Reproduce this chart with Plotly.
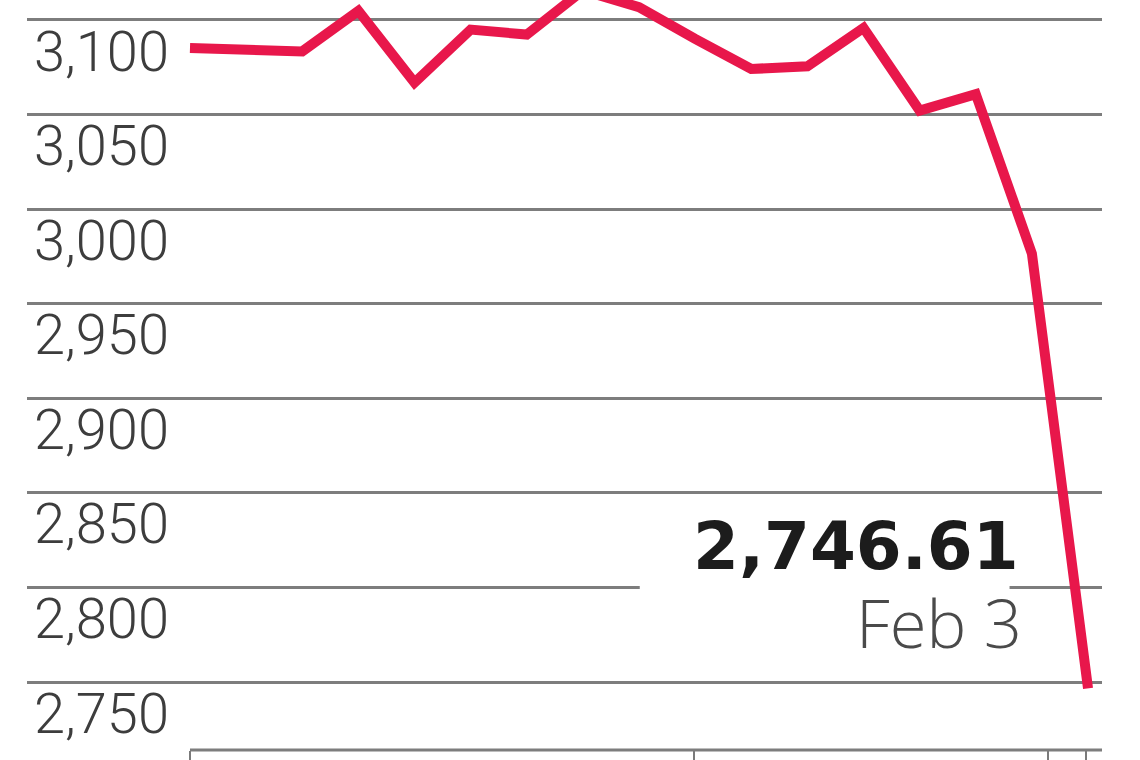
import plotly.graph_objects as go

# Data: index closes (17 trading sessions)
sessions = list(range(17))
closes = [3085.2, 3083.8, 3083.4, 3104.8, 3066.9, 3094.9, 3092.3, 3115.6,
          3106.8, 3090.0, 3074.1, 3075.5, 3095.8, 3052.1, 3060.8, 2976.5, 2746.61]
y_ticks = [2750, 2800, 2850, 2900, 2950, 3000, 3050, 3100]
y_tick_labels = ["2,750", "2,800", "2,850", "2,900", "2,950", "3,000", "3,050", "3,100"]
x_tick_positions = [0, 8.98, 15.29, 15.96]
last_value_label = "2,746.61"
last_date_label = "Feb 3"

fig = go.Figure()
fig.add_trace(go.Scatter(
    x=sessions, y=closes, mode="lines",
    line=dict(color="#E8174B", width=10, shape="linear"),
    hoverinfo="skip", showlegend=False,
))

fig.update_layout(
    width=1140, height=760,
    margin=dict(l=27, r=38, t=0, b=10),
    paper_bgcolor="white", plot_bgcolor="white",
    showlegend=False,
    xaxis=dict(
        range=[-2.904, 16.249], showgrid=False, zeroline=False,
        showticklabels=False, showline=False,
        tickmode="array", tickvals=x_tick_positions,
        ticks="outside", ticklen=10, tickwidth=2, tickcolor="#7a7a7a",
        fixedrange=True,
    ),
    yaxis=dict(
        range=[2714.05, 3110.57], showgrid=True, gridcolor="#7d7d7d", gridwidth=2.5,
        zeroline=False, showline=False,
        tickmode="array", tickvals=y_ticks, ticktext=y_tick_labels,
        ticklabelposition="inside", ticklabelshift=31, ticklabelstandoff=4,
        tickfont=dict(family="Roboto, 'Liberation Sans', sans-serif", size=56,
                      color="#3d3d3d", weight=300),
        fixedrange=True,
    ),
)

# bottom axis line (starts where the series starts)
fig.add_shape(type="line", xref="x", yref="paper", x0=0, x1=16.27, y0=0, y1=0,
              line=dict(color="#7d7d7d", width=3), layer="above")

# white panel behind the last-value label
fig.add_shape(type="rect", xref="paper", yref="paper",
              x0=0.570, x1=0.914, y0=0.115, y1=0.33,
              fillcolor="white", line=dict(width=0), layer="above")

fig.add_annotation(
    text="<b>" + last_value_label + "</b>", xref="paper", yref="paper",
    x=0.9245, y=0.2707, xanchor="right", yanchor="middle", showarrow=False,
    font=dict(family="'DejaVu Sans', sans-serif", size=66, color="#1c1c1c"),
)
fig.add_annotation(
    text=last_date_label, xref="paper", yref="paper",
    x=0.9275, y=0.1707, xanchor="right", yanchor="middle", showarrow=False,
    font=dict(family="'Open Sans', 'Liberation Sans', sans-serif", size=67,
              color="#4a4a4a", weight=300),
)

fig.write_html("out.html", config={"displayModeBar": False},
               post_script="document.body.style.margin='0';")
